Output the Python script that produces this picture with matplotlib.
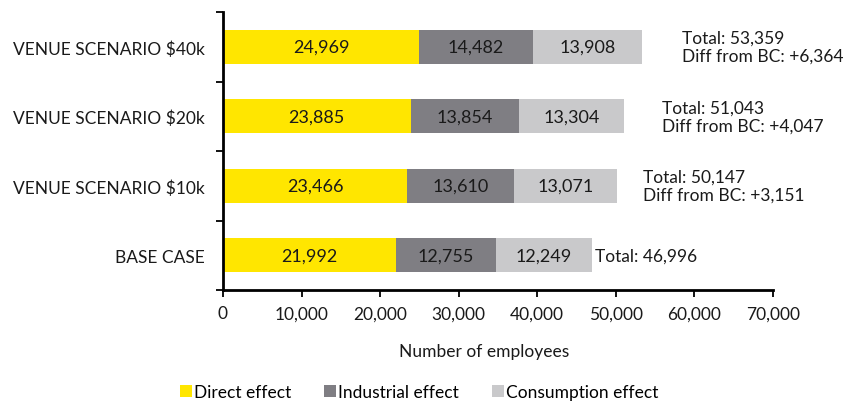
import matplotlib
matplotlib.use("Agg")
import matplotlib.pyplot as plt
import numpy as np

plt.rcParams["font.family"] = ["Lato", "DejaVu Sans"]

# scenarios, bottom to top
scenarios = ["BASE CASE", "VENUE SCENARIO $10k", "VENUE SCENARIO $20k", "VENUE SCENARIO $40k"]
direct = [21992, 23466, 23885, 24969]
industrial = [12755, 13610, 13854, 14482]
consumption = [12249, 13071, 13304, 13908]
diff_from_bc = [None, 3151, 4047, 6364]
note_offset_px = [3, 26, 38, 40]

series = [
    ("Direct effect", direct, "#FFE600"),
    ("Industrial effect", industrial, "#7F7E83"),
    ("Consumption effect", consumption, "#C9C9CB"),
]
text_color = "#1a1a1a"

fig = plt.figure(figsize=(8.52, 4.02), dpi=100)
ax = fig.add_axes([0.2617, 0.2761, 0.6455, 0.6915])

y = np.arange(len(scenarios))
left = np.zeros(len(scenarios))
for name, vals, color in series:
    vals = np.array(vals)
    ax.barh(y, vals, left=left, height=0.49, color=color, label=name)
    for yi, (l, v) in enumerate(zip(left, vals)):
        ax.text(l + v / 2, yi, f"{v:,}", ha="center", va="center",
                fontsize=13, color=text_color)
    left = left + vals

# totals and difference from base case
for yi, total in enumerate(left):
    txt = f"Total: {int(total):,}"
    if diff_from_bc[yi] is not None:
        txt += f"\nDiff from BC: +{diff_from_bc[yi]:,}"
    ax.annotate(txt, (total, yi), xytext=(note_offset_px[yi] * 0.72, 0),
                textcoords="offset points", ha="left", va="center",
                fontsize=12.5, color=text_color, linespacing=1.15)

ax.set_xlim(0, 70000)
ax.set_ylim(-0.5, len(scenarios) - 0.5)
ax.set_xticks(np.arange(0, 70001, 10000))
ax.set_xticklabels([f"{v:,}" for v in range(0, 70001, 10000)], fontsize=12.5, color=text_color)
ax.set_yticks(y)
ax.set_yticklabels(scenarios, fontsize=12.5, color=text_color)
ax.tick_params(axis="y", length=0, pad=13)
ax.set_yticks(np.arange(-0.5, len(scenarios), 1.0), minor=True)
ax.tick_params(axis="y", which="minor", length=5, width=1.3)
ax.tick_params(axis="x", length=5, width=1.3, pad=6)
for side in ("top", "right"):
    ax.spines[side].set_visible(False)
for side in ("left", "bottom"):
    ax.spines[side].set_linewidth(2)

ax.set_xlabel("Number of employees", fontsize=12.5, color=text_color)
ax.xaxis.set_label_coords(0.475, -0.19)

fig.legend(loc="center", bbox_to_anchor=(419 / 852, 1 - 393 / 402), ncol=3,
           frameon=False, fontsize=12.5, handlelength=0.7, handleheight=0.7,
           handletextpad=0.1, columnspacing=1.9)

fig.savefig("out.png", dpi=100)
